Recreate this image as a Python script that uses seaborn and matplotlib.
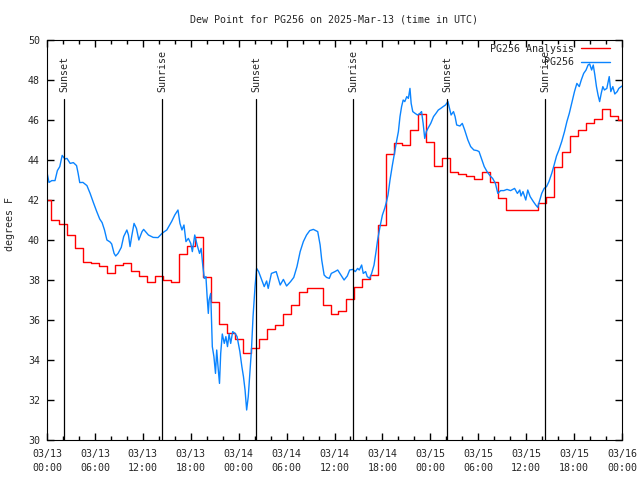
import pandas as pd
import matplotlib
matplotlib.use("Agg")
import matplotlib.pyplot as plt
import matplotlib.dates as mdates
import seaborn as sns

# Start of the plotted window (UTC)
START = pd.Timestamp("2025-03-13 00:00")

# Hourly analysis values (hours after START)
red_hours = list(range(73))
red_vals = [42.0, 41.0, 40.8, 40.25, 39.6, 38.9, 38.85, 38.7, 38.35, 38.75,
            38.85, 38.45, 38.2, 37.9, 38.2, 38.0, 37.9, 39.3, 39.7, 40.15,
            38.15, 36.9, 35.8, 35.35, 35.05, 34.35, 34.6, 35.05, 35.55, 35.75,
            36.3, 36.75, 37.4, 37.6, 37.6, 36.75, 36.3, 36.45, 37.05, 37.65,
            38.05, 38.25, 40.75, 44.3, 44.85, 44.75, 45.5, 46.3, 44.9, 43.7,
            44.1, 43.4, 43.3, 43.2, 43.05, 43.4, 42.9, 42.1, 41.5, 41.5,
            41.5, 41.5, 41.85, 42.15, 43.65, 44.4, 45.2, 45.5, 45.85, 46.05,
            46.55, 46.2, 46.0]

# Station observations (hours after START)
blue_hours = [0.0, 0.25, 0.6, 1.0, 1.3, 1.6, 1.9, 2.25, 2.5, 2.9, 3.3, 3.7, 3.9,
              4.1, 4.5, 5.0, 5.4, 5.8, 6.2, 6.6, 6.9, 7.2, 7.5, 7.9, 8.1, 8.4,
              8.6, 8.9, 9.3, 9.6, 10.0, 10.2, 10.4, 10.6, 10.9, 11.2, 11.5, 11.9,
              12.1, 12.7, 13.3, 13.9, 14.4, 14.7, 15.0, 15.6, 16.0, 16.4, 16.65,
              16.9, 17.15, 17.4, 17.7, 18.0, 18.2, 18.5, 18.8, 19.1, 19.3, 19.5,
              19.7, 19.9, 20.05, 20.2, 20.3, 20.5, 20.7, 20.9, 21.1, 21.25, 21.45,
              21.6, 21.75, 21.95, 22.2, 22.4, 22.6, 22.8, 23.0, 23.25, 23.55,
              23.8, 24.15, 24.4, 24.6, 24.8, 25.0, 25.2, 25.4, 25.6, 25.8, 26.05,
              26.25, 26.5, 26.9, 27.2, 27.5, 27.7, 28.1, 28.7, 29.2, 29.6, 30.0,
              30.5, 30.9, 31.3, 31.7, 32.1, 32.5, 32.9, 33.35, 33.9, 34.2, 34.4,
              34.7, 35.0, 35.35, 35.6, 36.05, 36.4, 36.8, 37.2, 37.6, 37.9, 38.3,
              38.6, 38.9, 39.1, 39.4, 39.6, 39.9, 40.1, 40.4, 40.65, 40.95, 41.2,
              41.4, 41.7, 42.0, 42.3, 42.5, 42.7, 42.95, 43.25, 43.5, 43.8, 44.0,
              44.2, 44.4, 44.6, 44.8, 45.05, 45.25, 45.45, 45.6, 45.8, 46.1, 46.4,
              46.7, 46.9, 47.1, 47.3, 47.5, 47.7, 48.05, 48.4, 48.7, 49.0, 49.3,
              49.6, 49.9, 50.2, 50.4, 50.6, 50.9, 51.1, 51.3, 51.7, 52.0, 52.3,
              52.7, 53.05, 53.45, 53.85, 54.1, 54.4, 54.75, 55.1, 55.5, 55.8,
              56.15, 56.45, 56.8, 57.2, 57.6, 58.05, 58.55, 58.9, 59.2, 59.35,
              59.6, 59.95, 60.2, 60.5, 60.9, 61.2, 61.45, 61.65, 61.95, 62.25,
              62.55, 62.85, 63.2, 63.5, 63.8, 64.1, 64.45, 64.8, 65.1, 65.4, 65.7,
              66.05, 66.35, 66.65, 66.9, 67.2, 67.5, 67.75, 67.95, 68.2, 68.4,
              68.6, 68.8, 69.0, 69.2, 69.4, 69.6, 69.8, 70.1, 70.4, 70.6, 70.85,
              71.1, 71.4, 71.6, 71.9, 72.0]
blue_vals = [43.38, 42.88, 42.97, 42.97, 43.47, 43.67, 44.23, 44.05, 44.08, 43.83,
             43.87, 43.72, 43.33, 42.87, 42.88, 42.72, 42.33, 41.88, 41.45, 41.05,
             40.87, 40.5, 40.0, 39.9, 39.8, 39.33, 39.2, 39.33, 39.63, 40.17,
             40.5, 40.25, 39.67, 40.17, 40.83, 40.58, 40.0, 40.42, 40.53, 40.25,
             40.13, 40.12, 40.33, 40.42, 40.5, 40.92, 41.25, 41.5, 40.83, 40.5,
             40.75, 39.92, 40.08, 39.83, 39.42, 40.25, 39.75, 39.33, 39.58, 38.75,
             38.08, 38.17, 37.17, 36.33, 37.0, 37.33, 34.67, 34.17, 33.33, 34.5,
             33.5, 32.83, 34.33, 35.3, 34.83, 35.17, 34.67, 35.3, 34.83, 35.42,
             35.33, 35.17, 34.42, 33.67, 33.17, 32.5, 31.5, 32.17, 33.33, 34.5,
             36.17, 37.67, 38.58, 38.42, 38.0, 37.67, 37.95, 37.58, 38.33, 38.42,
             37.75, 38.03, 37.7, 37.92, 38.13, 38.67, 39.42, 39.92, 40.25, 40.47,
             40.53, 40.42, 39.75, 39.0, 38.25, 38.13, 38.08, 38.33, 38.42, 38.5,
             38.25, 38.0, 38.2, 38.5, 38.53, 38.42, 38.58, 38.5, 38.75, 38.33,
             38.42, 38.17, 38.08, 38.33, 38.75, 39.42, 40.0, 40.67, 41.25, 41.6,
             41.9, 42.25, 43.0, 43.75, 44.33, 45.0, 45.42, 46.17, 46.67, 47.0,
             46.92, 47.17, 47.08, 47.58, 46.83, 46.42, 46.33, 46.25, 46.33, 46.42,
             45.83, 45.08, 45.42, 45.58, 45.83, 46.17, 46.33, 46.5, 46.58, 46.67,
             46.75, 46.92, 46.58, 46.25, 46.42, 46.17, 45.75, 45.7, 45.83, 45.5,
             45.0, 44.67, 44.5, 44.47, 44.42, 44.08, 43.67, 43.42, 43.2, 43.08,
             42.83, 42.33, 42.47, 42.47, 42.53, 42.47, 42.58, 42.33, 42.5, 42.2,
             42.42, 42.0, 42.5, 42.17, 41.92, 41.75, 41.63, 41.92, 42.33, 42.58,
             42.67, 42.92, 43.33, 43.75, 44.2, 44.5, 44.92, 45.42, 45.92, 46.33,
             46.83, 47.42, 47.83, 47.67, 48.0, 48.33, 48.5, 48.75, 48.8, 48.5,
             48.75, 48.25, 47.67, 47.25, 46.92, 47.33, 47.67, 47.5, 47.58, 48.17,
             47.42, 47.67, 47.3, 47.42, 47.58, 47.67, 47.7]

# Sun events
sun_times = ["2025-03-13 02:10", "2025-03-13 14:26", "2025-03-14 02:13",
             "2025-03-14 14:21", "2025-03-15 02:08", "2025-03-15 14:24"]
sun_labels = ["Sunset", "Sunrise", "Sunset", "Sunrise", "Sunset", "Sunrise"]

analysis = pd.DataFrame({"time": START + pd.to_timedelta(red_hours, unit="h"),
                         "dewpt": red_vals})
obs = pd.DataFrame({"time": START + pd.to_timedelta(blue_hours, unit="h"),
                    "dewpt": blue_vals})

sns.set_style("ticks")
plt.rcParams["font.family"] = ["DejaVu Sans Mono"]
FS = 7.2

fig = plt.figure(figsize=(6.4, 4.8), dpi=100)
ax = fig.add_axes([47 / 640, 40 / 480, 575 / 640, 400 / 480])

sns.lineplot(data=analysis, x="time", y="dewpt", color="#ff0000", lw=1.0,
             drawstyle="steps-mid", estimator=None, label="PG256 Analysis", ax=ax)
sns.lineplot(data=obs, x="time", y="dewpt", color="#0a84ff", lw=1.0,
             estimator=None, label="PG256", ax=ax)

# Sunrise / sunset markers
for t, lab in zip(sun_times, sun_labels):
    ts = pd.Timestamp(t)
    ax.axvline(ts, ymin=0, ymax=0.8525, color="black", lw=0.9)
    ax.text(ts, 0.87, lab, rotation=90, ha="center", va="bottom",
            transform=ax.get_xaxis_transform(), fontsize=FS)

ax.set_xlim(START, START + pd.Timedelta(hours=72))
ax.set_ylim(30, 50)
ax.set_yticks(range(30, 51, 2))
ax.xaxis.set_major_locator(mdates.HourLocator(byhour=range(0, 24, 6)))
ax.xaxis.set_minor_locator(mdates.HourLocator(byhour=range(0, 24, 2)))
ax.xaxis.set_major_formatter(mdates.DateFormatter("%m/%d\n%H:%M"))

ax.tick_params(which="both", direction="in", top=True, right=True,
               bottom=True, left=True, width=1.0, labelsize=FS, color="black")
ax.tick_params(which="major", length=5)
ax.tick_params(which="minor", length=3)
ax.tick_params(axis="x", pad=6.5)
ax.tick_params(axis="y", pad=5)
for lab in ax.get_xticklabels():
    lab.set_linespacing(1.45)
for s in ax.spines.values():
    s.set_linewidth(0.8)
    s.set_color("black")

ax.set_xlabel("")
ax.set_ylabel("degrees F", fontsize=FS)
ax.yaxis.set_label_coords(-0.055, 0.54)

fig.text(334 / 640, 1 - 19 / 480, "Dew Point for PG256 on 2025-Mar-13 (time in UTC)",
         ha="center", va="center", fontsize=FS)

ax.legend(loc="upper right", bbox_to_anchor=((610 - 47) / 575, 0.99),
          frameon=False, markerfirst=False, fontsize=FS, borderaxespad=0,
          borderpad=0, handlelength=2.9, handletextpad=0.7, labelspacing=0.35)

fig.savefig("out.png", dpi=100)
